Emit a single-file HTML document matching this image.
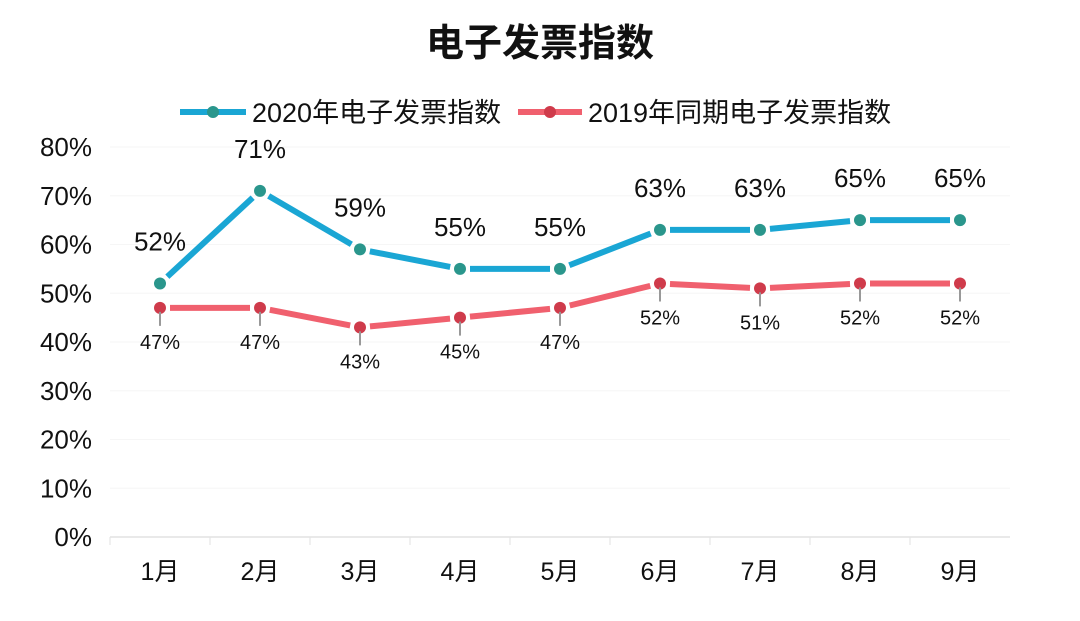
<!DOCTYPE html>
<html><head><meta charset="utf-8"><style>
body{margin:0;background:#fff;}
svg{display:block;font-family:"Liberation Sans","Noto Sans CJK SC",sans-serif;}
</style></head><body>
<svg id="c" width="1080" height="621">
<text x="540" y="56" text-anchor="middle" font-size="38" font-weight="bold" fill="#111">电子发票指数</text>
<g>
<g>
<line x1="180" y1="112" x2="246" y2="112" stroke="#1aa6d4" stroke-width="6"/>
<circle cx="213" cy="112" r="6" fill="#2a968c"/>
<text x="252" y="122" font-size="27" fill="#111">2020年电子发票指数</text></g>
<g>
<line x1="518" y1="112" x2="582" y2="112" stroke="#f0606e" stroke-width="6"/>
<circle cx="550" cy="112" r="6" fill="#cf3b4b"/>
<text x="588" y="122" font-size="27" fill="#111">2019年同期电子发票指数</text></g>
</g>
<g id="axes"></g><g id="marks"></g>
</svg>
<script>
const months=["1月","2月","3月","4月","5月","6月","7月","8月","9月"];
const s2020=[52,71,59,55,55,63,63,65,65];
const s2019=[47,47,43,45,47,52,51,52,52];
const yTicks=[0,10,20,30,40,50,60,70,80];
const NS="http://www.w3.org/2000/svg";
const x=i=>160+i*100;
const y=v=>537-v*4.875;
function el(t,a,p){const e=document.createElementNS(NS,t);for(const k in a)e.setAttribute(k,a[k]);p.appendChild(e);return e;}
const ax=document.getElementById('axes'),mk=document.getElementById('marks');
yTicks.forEach(v=>{
const t=el('text',{x:92,y:y(v)+9,'text-anchor':'end','font-size':26,fill:'#111'},ax);t.textContent=v+'%';


if(v>0){const g=el('line',{x1:110,x2:1010,y1:y(v),y2:y(v),stroke:'#f6f6f6','stroke-width':1},ax);

}
});
const xl=el('line',{x1:110,x2:1010,y1:537,y2:537,stroke:'#e2e2e2','stroke-width':1.5},ax);


months.forEach((m,i)=>{
const tk=el('line',{x1:110+i*100,x2:110+i*100,y1:537,y2:545,stroke:'#e2e2e2'},ax);


const t=el('text',{x:x(i),y:580,'text-anchor':'middle','font-size':25,fill:'#111'},ax);t.textContent=m;


});
function series(data,lc,mc,name,above){
for(let i=0;i<data.length-1;i++){
const x1=x(i),y1=y(data[i]),x2=x(i+1),y2=y(data[i+1]);
const d=Math.hypot(x2-x1,y2-y1),ux=(x2-x1)/d,uy=(y2-y1)/d,g=10;
const s=el('line',{x1:x1+ux*g,y1:y1+uy*g,x2:x2-ux*g,y2:y2-uy*g,stroke:lc,'stroke-width':6},mk);


}
data.forEach((v,i)=>{
const c=el('circle',{cx:x(i),cy:y(v),r:6,fill:mc},mk);


let t;
if(above){
t=el('text',{x:x(i),y:y(v)-33,'text-anchor':'middle','font-size':26,fill:'#111'},mk);
}else{
const l=el('line',{x1:x(i),y1:y(v)+4,x2:x(i),y2:y(v)+18,stroke:'#999','stroke-width':2},mk);


t=el('text',{x:x(i),y:y(v)+41,'text-anchor':'middle','font-size':20,fill:'#111'},mk);
}
t.textContent=v+'%';


});
}
series(s2019,'#f0606e','#cf3b4b','series-2019',false);
series(s2020,'#1aa6d4','#2a968c','series-2020',true);
</script>
</body></html>
